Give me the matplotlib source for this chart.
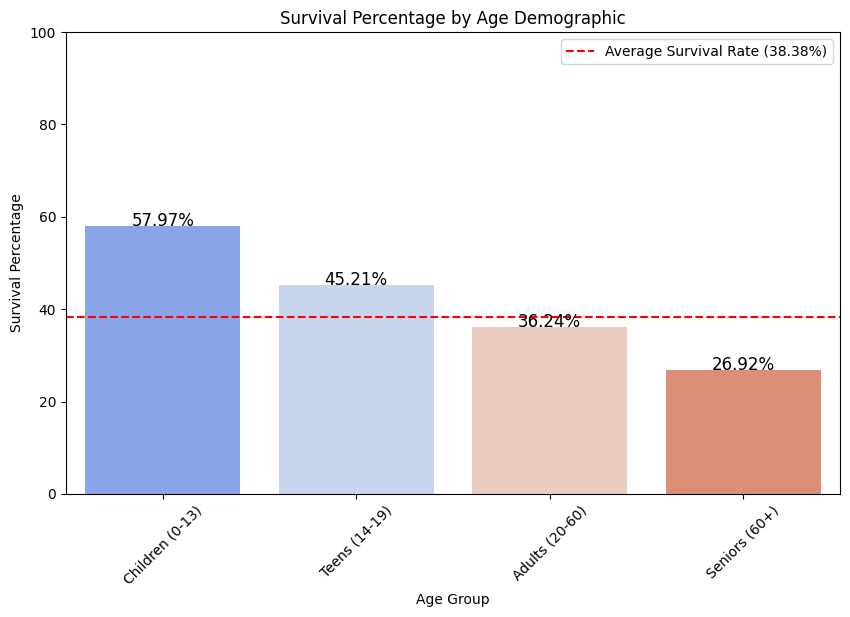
import matplotlib
matplotlib.use("Agg")
import matplotlib.pyplot as plt
import seaborn as sns
import pandas as pd

# survival by age group
age_groups = ["Children (0-13)", "Teens (14-19)", "Adults (20-60)", "Seniors (60+)"]
survival_pct = [57.97, 45.21, 36.24, 26.92]
avg_rate = 38.38

df = pd.DataFrame({"Age Group": age_groups, "Survival Percentage": survival_pct})

fig = plt.figure(figsize=(8.5, 6.17), dpi=100)
ax = fig.add_axes([0.0776, 0.1994, 0.9106, 0.7487])

sns.barplot(data=df, x="Age Group", y="Survival Percentage", hue="Age Group",
            palette="coolwarm", legend=False, ax=ax)

ax.axhline(avg_rate, color="red", linestyle="--",
           label=f"Average Survival Rate ({avg_rate:.2f}%)")

for i, v in enumerate(survival_pct):
    ax.text(i, v, f"{v:.2f}%", ha="center", va="baseline", fontsize=12)

ax.set_ylim(0, 100)
ax.set_title("Survival Percentage by Age Demographic")
ax.set_xlabel("Age Group")
ax.set_ylabel("Survival Percentage")
plt.setp(ax.get_xticklabels(), rotation=45)
ax.legend(loc="upper right")

fig.savefig("out.png", dpi=100)
